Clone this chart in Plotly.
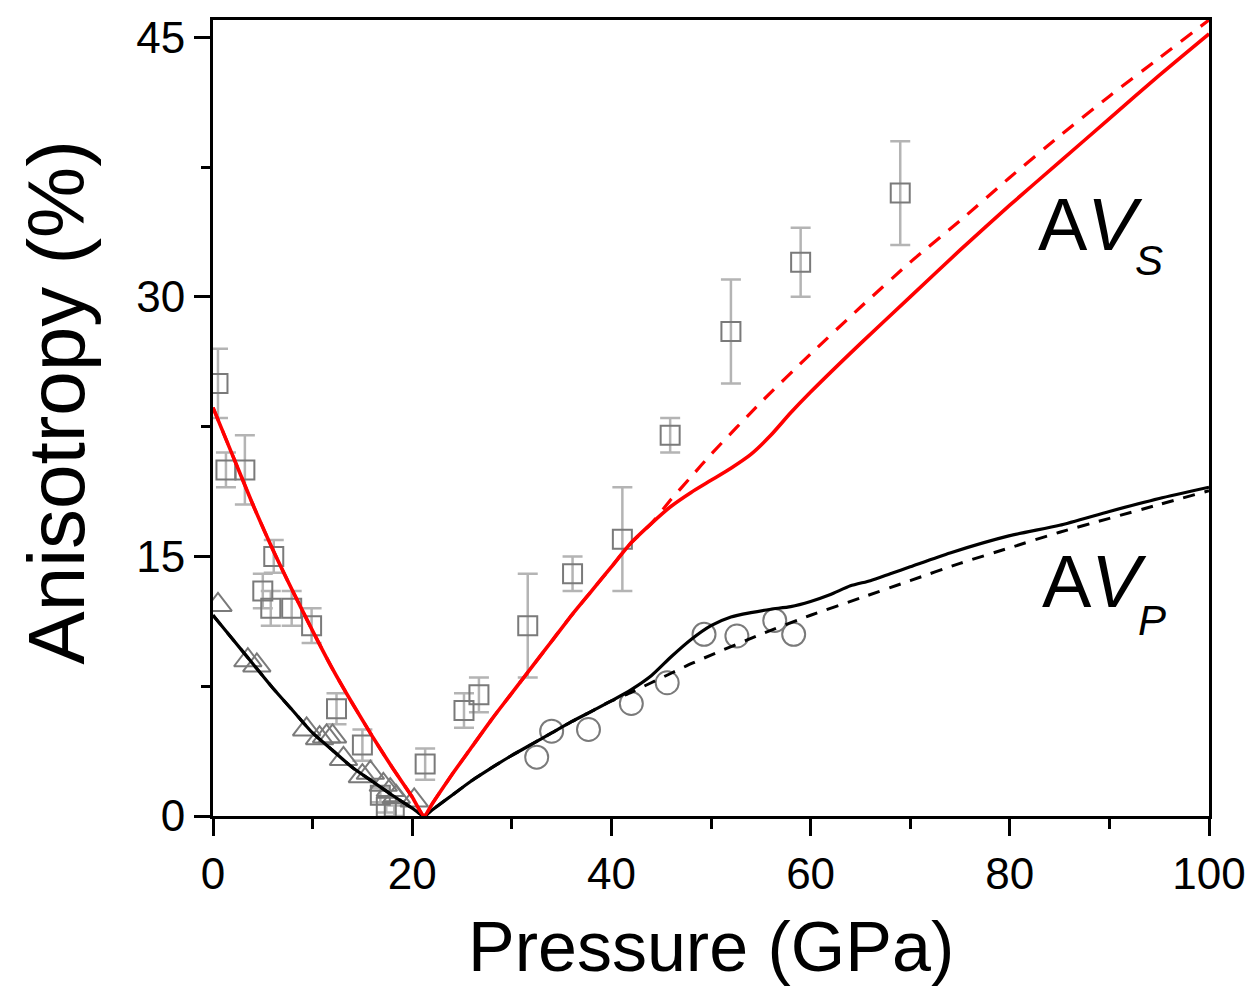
import plotly.graph_objects as go

# ---- data ----
# AVS calculated (solid red) and alternative (dashed red)
avs_x = [0, 2, 4, 6, 8, 10, 12, 14, 16, 18, 20, 21.2, 22, 24, 26, 28, 30, 32, 34, 36, 38, 40, 42, 44,
         46, 48, 50, 52, 54, 56, 58, 60, 65, 70, 75, 80, 85, 90, 95, 100]
avs_y = [23.6, 20.8, 18.0, 15.4, 13.0, 10.7, 8.5, 6.5, 4.6, 2.8, 1.1, 0.0, 0.7, 2.4, 4.0, 5.6, 7.1, 8.6, 10.1, 11.6, 13.0, 14.4, 15.8, 16.9,
         17.9, 18.7, 19.4, 20.1, 20.9, 22.0, 23.3, 24.5, 27.3, 30.0, 32.7, 35.3, 37.8, 40.3, 42.8, 45.2]
avs_dash_x = [0, 2, 4, 6, 8, 10, 12, 14, 16, 18, 20, 21.2, 22, 24, 26, 28, 30, 32, 34, 36, 38, 40, 42, 44,
              46, 48, 50, 55, 60, 65, 70, 75, 80, 85, 90, 95, 100]
avs_dash_y = [23.6, 20.8, 18.0, 15.4, 13.0, 10.7, 8.5, 6.5, 4.6, 2.8, 1.1, 0.0, 0.7, 2.4, 4.0, 5.6, 7.1, 8.6, 10.1, 11.6, 13.0, 14.4, 15.8, 16.9,
              18.3, 19.6, 20.9, 23.9, 26.7, 29.4, 32.0, 34.4, 36.9, 39.3, 41.6, 43.8, 46.0]

# AVP calculated (solid black) and alternative (dashed black)
avp_x = [0, 2, 4, 6, 8, 10, 12, 14, 16, 18, 20, 21.2, 22, 24, 26, 28, 30, 32, 34, 36, 38, 40, 42, 44,
         46, 48, 50, 52, 54, 56, 58, 60, 62, 64, 66, 68, 70, 74, 80, 85, 90, 95, 100]
avp_y = [11.6, 10.2, 8.8, 7.4, 6.1, 4.8, 3.8, 2.8, 2.0, 1.2, 0.45, 0.0, 0.35, 1.2, 2.05, 2.8, 3.5, 4.15, 4.8, 5.45, 6.05, 6.65, 7.3, 8.1,
         9.2, 10.2, 11.0, 11.5, 11.75, 11.95, 12.1, 12.4, 12.8, 13.3, 13.6, 14.0, 14.4, 15.2, 16.2, 16.8, 17.6, 18.35, 19.0]
avp_dash_x = [0, 2, 4, 6, 8, 10, 12, 14, 16, 18, 20, 21.2, 22, 24, 26, 28, 30, 32, 34, 36, 38, 40, 42, 44,
              46, 48, 50, 55, 60, 65, 70, 75, 80, 85, 90, 95, 100]
avp_dash_y = [11.6, 10.2, 8.8, 7.4, 6.1, 4.8, 3.8, 2.8, 2.0, 1.2, 0.45, 0.0, 0.35, 1.2, 2.05, 2.8, 3.5, 4.15, 4.8, 5.45, 6.05, 6.65, 7.15, 7.7,
              8.25, 8.8, 9.3, 10.5, 11.6, 12.6, 13.6, 14.6, 15.5, 16.4, 17.2, 18.0, 18.8]

# experimental AVS (open squares with error bars)
sq_x = [0.5, 1.3, 3.2, 5.0, 6.1, 5.8, 7.9, 9.9, 12.4, 15.0, 16.8, 17.4, 18.2, 21.3, 25.2, 26.7, 31.6, 36.1, 41.1, 45.9, 52.0, 59.0, 69.0]
sq_y = [25.0, 20.0, 20.0, 13.0, 15.0, 12.0, 12.0, 11.0, 6.2, 4.1, 1.2, 0.5, 0.3, 3.0, 6.1, 7.0, 11.0, 14.0, 16.0, 22.0, 28.0, 32.0, 36.0]
sq_err = [2.0, 1.0, 2.0, 1.0, 0.95, 1.0, 1.0, 1.0, 0.9, 0.9, 0.4, 0.3, 0.3, 0.9, 1.0, 1.0, 3.0, 1.0, 3.0, 1.0, 3.0, 2.0, 3.0]

# experimental AVP (open triangles and circles)
tri_x = [0.5, 3.5, 4.4, 9.4, 10.7, 11.4, 12.0, 13.1, 15.0, 15.8, 17.1, 17.8, 18.4, 20.2]
tri_y = [12.2, 9.0, 8.7, 5.0, 4.5, 4.6, 4.6, 3.3, 2.3, 2.5, 1.8, 1.5, 1.1, 0.9]
cir_x = [32.5, 34.0, 37.7, 42.0, 45.6, 49.3, 52.6, 56.4, 58.3]
cir_y = [3.4, 4.9, 5.0, 6.5, 7.7, 10.5, 10.4, 11.3, 10.5]

x_ticks = [0, 20, 40, 60, 80, 100]
y_ticks = [0, 15, 30, 45]

FONT = "Arial, Liberation Sans, sans-serif"
GRAY = "#7a7a7a"
ERRC = "#b4b4b4"

fig = go.Figure()

fig.add_trace(go.Scatter(
    x=sq_x, y=sq_y, mode="markers",
    marker=dict(symbol="square-open", size=19, color=GRAY, line=dict(width=2, color=GRAY)),
    error_y=dict(type="data", array=sq_err, visible=True, color=ERRC, thickness=2.5, width=10),
    showlegend=False))
fig.add_trace(go.Scatter(
    x=tri_x, y=tri_y, mode="markers",
    marker=dict(symbol="triangle-up-open", size=24, color=GRAY, line=dict(width=2, color=GRAY)),
    showlegend=False))
fig.add_trace(go.Scatter(
    x=cir_x, y=cir_y, mode="markers",
    marker=dict(symbol="circle-open", size=23, color=GRAY, line=dict(width=2, color=GRAY)),
    showlegend=False))

fig.add_trace(go.Scatter(x=avp_dash_x, y=avp_dash_y, mode="lines",
                         line=dict(color="black", width=3, dash="12px,10px", shape="spline", smoothing=0.6),
                         showlegend=False))
fig.add_trace(go.Scatter(x=avp_x, y=avp_y, mode="lines",
                         line=dict(color="black", width=3.2, shape="spline", smoothing=0.6),
                         showlegend=False))
fig.add_trace(go.Scatter(x=avs_dash_x, y=avs_dash_y, mode="lines",
                         line=dict(color="#ff0000", width=3.2, dash="14px,11px", shape="spline", smoothing=0.6),
                         showlegend=False))
fig.add_trace(go.Scatter(x=avs_x, y=avs_y, mode="lines",
                         line=dict(color="#ff0000", width=3.6, shape="spline", smoothing=0.6),
                         showlegend=False))

axis_common = dict(showline=True, linecolor="black", linewidth=3, mirror=True,
                   ticks="outside", tickcolor="black", tickwidth=3,
                   showgrid=False, zeroline=False,
                   tickfont=dict(family=FONT, size=44, color="black"))

fig.update_xaxes(range=[0, 100], tickvals=x_ticks, ticklen=17,
                 minor=dict(tickvals=[10, 30, 50, 70, 90], ticks="outside", ticklen=10, tickwidth=3, tickcolor="black"),
                 **axis_common)
fig.update_yaxes(range=[0, 46], tickvals=y_ticks, ticklen=16,
                 minor=dict(tickvals=[7.5, 22.5, 37.5], ticks="outside", ticklen=9, tickwidth=3, tickcolor="black"),
                 **axis_common)

annotations = [
    dict(text="Pressure (GPa)", xref="paper", yref="paper", x=0.5, y=-0.165,
         xanchor="center", yanchor="middle", showarrow=False,
         font=dict(family=FONT, size=70, color="black")),
    dict(text="Anisotropy (%)", xref="paper", yref="paper", x=-0.158, y=0.52,
         xanchor="center", yanchor="middle", textangle=-90, showarrow=False,
         font=dict(family=FONT, size=80, color="black")),
    dict(text="A<i>V</i>", xref="x", yref="y", x=82.6, y=34.2,
         xanchor="left", yanchor="middle", showarrow=False,
         font=dict(family=FONT, size=74, color="black")),
    dict(text="<i>S</i>", xref="x", yref="y", x=94.0, y=32.1,
         xanchor="center", yanchor="middle", showarrow=False,
         font=dict(family=FONT, size=42, color="black")),
    dict(text="A<i>V</i>", xref="x", yref="y", x=83.0, y=13.55,
         xanchor="left", yanchor="middle", showarrow=False,
         font=dict(family=FONT, size=74, color="black")),
    dict(text="<i>P</i>", xref="x", yref="y", x=94.3, y=11.3,
         xanchor="center", yanchor="middle", showarrow=False,
         font=dict(family=FONT, size=42, color="black")),
]

# page body adds an 8px offset, so the figure is 8px smaller and margins shifted
fig.update_layout(
    width=1247, height=978,
    margin=dict(l=205, r=46, t=5, b=170),
    paper_bgcolor="white", plot_bgcolor="white",
    annotations=annotations,
    showlegend=False,
)

fig.write_html("out.html")
